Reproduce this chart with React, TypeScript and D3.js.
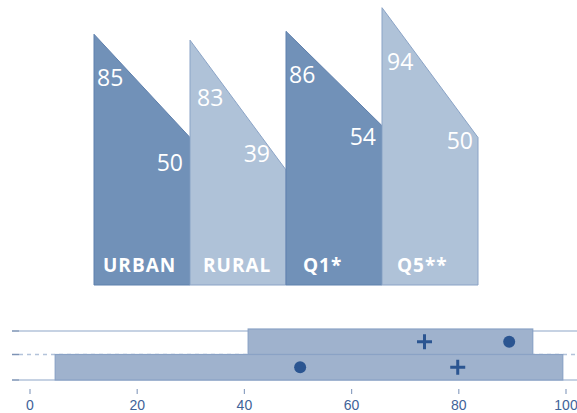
import React from "react";
import * as d3 from "d3";

// top panels: value at the left edge and at the right edge of each slanted bar
const categories = ["URBAN", "RURAL", "Q1*", "Q5**"];
const startValues = [85, 83, 86, 94];
const endValues = [50, 39, 54, 50];

// bottom range chart: one row per range
const rangeRows = ["upper", "lower"];
const rangeLow = [40.7, 4.7];
const rangeHigh = [93.8, 99.4];
const plusValues = [73.6, 79.8];
const dotValues = [89.4, 50.4];
const axisTicks = [0, 20, 40, 60, 80, 100];

// hand placement of the value labels (as in the original slide)
const startLabelDx = [3, 7, 3, 5];
const startLabelDy = [52, 66, 52, 62];
const endLabelDx = [-7, -16, -6, -5];
const endLabelDy = [33, -8, 19, 11];
const nameLabelDx = [9, 13, 17, 15];

const W = 577;
const H = 413;

const darkFill = "#7191b8";
const lightFill = "#afc2d8";
const markColor = "#2b5591";

export default function App() {
  const x = d3.scaleBand<string>().domain(categories).range([94, 478]).padding(0);
  const y = d3.scaleLinear().domain([0, 100]).range([285, -10]);

  const rx = d3.scaleLinear().domain([0, 100]).range([30, 566]);
  const ry = d3.scaleBand<string>().domain(rangeRows).range([329, 380]).padding(0);

  const area = d3.line<[number, number]>();

  // row borders: top, between rows (dashed), bottom
  const lineYs = [331, ry("lower")!, 380];

  return (
    <div style={{ position: "absolute", left: 0, top: 0 }}>
      <svg width={W} height={H} style={{ display: "block", background: "#fff" }}>
        <g fontFamily="'Open Sans', sans-serif">
          {categories.map((c, i) => {
            const x0 = x(c)!;
            const x1 = x0 + x.bandwidth();
            const pts: [number, number][] = [
              [x0, y(startValues[i])],
              [x1, y(endValues[i])],
              [x1, y(0)],
              [x0, y(0)],
            ];
            const dark = i % 2 === 0;
            return (
              <g key={c}>
                <path
                  d={area(pts)! + "Z"}
                  fill={dark ? darkFill : lightFill}
                  stroke={dark ? "#5f80ad" : "#8aa3c6"}
                  strokeWidth={1}
                />
                <text
                  x={x0 + startLabelDx[i]}
                  y={y(startValues[i]) + startLabelDy[i]}
                  fill="#fff"
                  fontSize={23}
                >
                  {startValues[i]}
                </text>
                <text
                  x={x1 + endLabelDx[i]}
                  y={y(endValues[i]) + endLabelDy[i]}
                  fill="#fff"
                  fontSize={23}
                  textAnchor="end"
                >
                  {endValues[i]}
                </text>
                <text
                  x={x0 + nameLabelDx[i]}
                  y={271.5}
                  fill="#fff"
                  fontSize={19}
                  fontWeight={700}
                  letterSpacing={1}
                >
                  {c}
                </text>
              </g>
            );
          })}
        </g>

        <g>
          {lineYs.map((ly, i) => (
            <g key={i}>
              <line
                x1={19}
                x2={W}
                y1={ly}
                y2={ly}
                stroke="#b3c3da"
                strokeWidth={1.5}
                strokeDasharray={i === 1 ? "4,4" : undefined}
              />
              <line x1={12} x2={19} y1={ly} y2={ly} stroke="#7d93b5" strokeWidth={1.5} />
            </g>
          ))}
          {rangeRows.map((r, i) => (
            <rect
              key={r}
              x={rx(rangeLow[i])}
              y={ry(r)!}
              width={rx(rangeHigh[i]) - rx(rangeLow[i])}
              height={ry.bandwidth()}
              fill="#9fb2cd"
              stroke="#8aa2c5"
              strokeWidth={1.2}
            />
          ))}
          {rangeRows.map((r, i) => {
            const cy = ry(r)! + ry.bandwidth() / 2;
            const px = rx(plusValues[i]);
            return (
              <g key={r}>
                <line x1={px - 7.5} x2={px + 7.5} y1={cy} y2={cy} stroke={markColor} strokeWidth={3} />
                <line x1={px} x2={px} y1={cy - 7.5} y2={cy + 7.5} stroke={markColor} strokeWidth={3} />
                <circle cx={rx(dotValues[i])} cy={cy} r={6} fill={markColor} />
              </g>
            );
          })}
          <g fontFamily="'Liberation Sans', Arial, sans-serif" fontSize={14} fill="#3f6399">
            {axisTicks.map((t) => (
              <g key={t} transform={`translate(${rx(t)},0)`}>
                <line y1={389} y2={394} stroke="#8ea2c2" strokeWidth={1.2} />
                <text y={410} textAnchor="middle">
                  {t}
                </text>
              </g>
            ))}
          </g>
        </g>
      </svg>
    </div>
  );
}
